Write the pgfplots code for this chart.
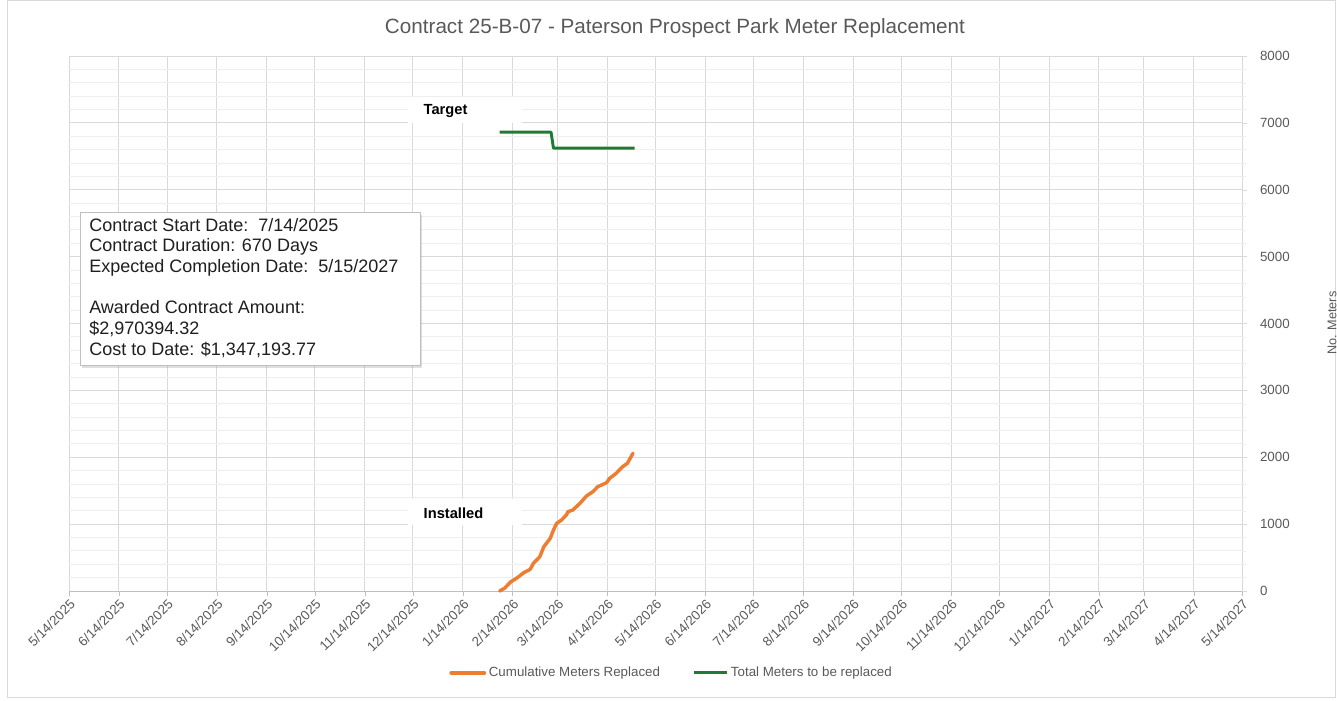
\documentclass[border=0pt]{standalone}
\usepackage{fontspec}
\setmainfont{Liberation Sans}
\usepackage{pgfplots}
\pgfplotsset{compat=1.18}
\usetikzlibrary{shadows}
\definecolor{xlOrange}{HTML}{ED7D31}
\definecolor{xlGreen}{HTML}{1E7B34}
\definecolor{gridMaj}{HTML}{D9D9D9}
\definecolor{gridMin}{HTML}{EEEEEE}
\definecolor{txtGray}{HTML}{595959}
\definecolor{boxLine}{HTML}{BFBFBF}

\begin{document}
\begin{tikzpicture}
\useasboundingbox (0pt,0pt) rectangle (1002.75pt,525pt);
\draw[gridMaj, line width=0.75pt] (5.25pt,2.25pt) rectangle (1001.25pt,524.6pt);

\begin{axis}[
  at={(51.75pt,81.75pt)}, anchor=origin,
  scale only axis, width=879.75pt, height=401.25pt,
  xmin=0, xmax=730, ymin=0, ymax=8000,
  axis x line*=bottom, axis y line*=right,
  x axis line style={boxLine, -},
  y axis line style={draw=none},
  xtick={0,31,61,92,123,153,184,214,245,276,304,335,365,396,426,457,488,518,549,579,610,641,669,700,730},
  xticklabels={5/14/2025,6/14/2025,7/14/2025,8/14/2025,9/14/2025,10/14/2025,11/14/2025,12/14/2025,
    1/14/2026,2/14/2026,3/14/2026,4/14/2026,5/14/2026,6/14/2026,7/14/2026,8/14/2026,9/14/2026,
    10/14/2026,11/14/2026,12/14/2026,1/14/2027,2/14/2027,3/14/2027,4/14/2027,5/14/2027},
  ytick={0,1000,...,8000},
  minor y tick num=4,
  minor x tick num=0,
  tick align=outside,
  major tick length=4pt,
  minor tick length=3pt,
  x tick style={boxLine},
  y tick style={gridMaj},
  minor y tick style={gridMin},
  yticklabel pos=right,
  x tick label style={rotate=45, anchor=north east, font=\fontsize{10}{11}\selectfont, text=txtGray, inner sep=1pt},
  y tick label style={anchor=west, font=\fontsize{10}{11}\selectfont, text=txtGray, xshift=6pt},
  scaled y ticks=false,
  /pgf/number format/assume math mode=true,
  /pgf/number format/set thousands separator={},
  grid=both,
  major grid style={gridMaj, line width=0.75pt},
  minor grid style={gridMin, line width=0.75pt},
  legend style={at={(0.514,-0.153)}, anchor=center, draw=none, fill=none,
    legend columns=2, font=\fontsize{10}{11}\selectfont, text=txtGray,
    /tikz/every even column/.append style={column sep=22pt}},
  legend image code/.code={\draw[#1] (0pt,0pt) -- (25pt,0pt);},
  clip=false,
]
\addplot[xlOrange, line width=2.6pt, line join=round, line cap=round] coordinates {
  (268,0) (271,40) (275,139) (278.5,190) (283,274) (287,324) (289,414) (293,513)
  (295.5,662) (299.5,788) (301.5,912) (303.5,1012) (306.5,1061) (309.5,1136)
  (310.5,1185) (313.5,1211) (318,1311) (322,1420) (326,1484) (329,1559)
  (334.5,1619) (336.5,1685) (340.5,1759) (344.5,1858) (347.5,1909) (351,2060)
};
\addlegendentry{Cumulative Meters Replaced}
\addplot[xlGreen, line width=2.2pt, line join=round] coordinates {
  (268,6861) (300,6861) (301.5,6622) (352,6622)
};
\addlegendentry{Total Meters to be replaced}
\end{axis}

\begin{scope}[x=0.75pt,y=0.75pt]
% title
\node[text=txtGray, font=\fontsize{15.5}{17}\selectfont] at (675,672) {Contract 25-B-07 - Paterson Prospect Park Meter Replacement};
% y label
\node[text=txtGray, rotate=90, font=\fontsize{9.5}{10}\selectfont] at (1332,377) {No. Meters};

% data labels
\fill[white] (408,603) rectangle (522,577);
\node[anchor=west, font=\bfseries\fontsize{11}{12}\selectfont] at (419,589) {Target};
\fill[white] (408,201) rectangle (522,175);
\node[anchor=west, font=\bfseries\fontsize{11}{12}\selectfont] at (419,187) {Installed};

% info box
\draw[boxLine, fill=white, line width=0.75pt, drop shadow={shadow xshift=1.5pt, shadow yshift=-1.5pt, opacity=0.25}] (80,487) rectangle (420,334);
\node[anchor=north west, align=left, inner sep=0pt, text=black!88,
  font=\fontsize{13.5}{15.5}\selectfont] at (89,482) {Contract Start Date:\ \ 7/14/2025\\
Contract Duration: 670 Days\\
Expected Completion Date:\ \ 5/15/2027\\[15.5pt]
Awarded Contract Amount:\\
\$2,970394.32\\
Cost to Date: \$1,347,193.77};
\end{scope}
\end{tikzpicture}
\end{document}
